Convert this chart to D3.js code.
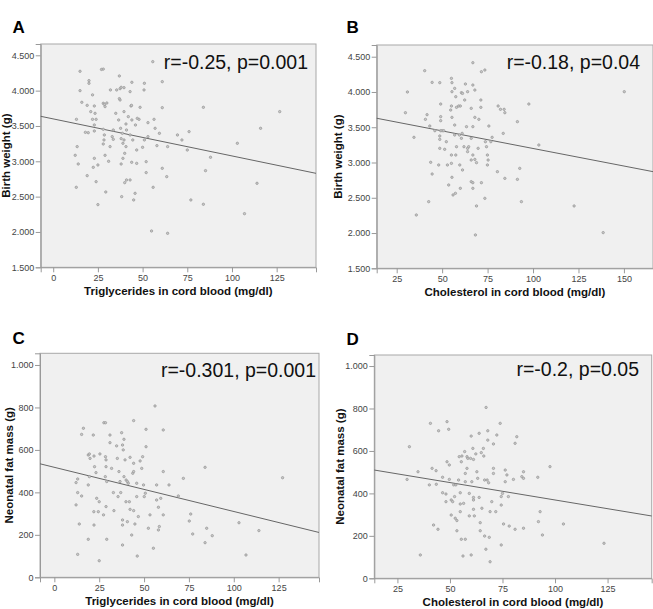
<!DOCTYPE html>
<html>
<head>
<meta charset="utf-8">
<script src="https://cdn.jsdelivr.net/npm/d3@7"></script>
<style>
  body { margin: 0; background: #fff; }
  svg { display: block; font-family: "Liberation Sans", Arial, sans-serif; }
</style>
</head>
<body>
<svg id="chart" width="653" height="609"></svg>
<script>
// Panel A: triglycerides vs birth weight
const trigA = [15,15,20,20,16,19,22,23,21,23.4,13,22,18,19.6,23,24,23,12.3,13.4,14,12.9,19,22.4,23,24,25,25,27,28,28,28.6,29,30,28,28.6,28.4,28,29,31,31.8,29.4,32,35.5,33.6,33,33.6,35,37,37.4,37,37.4,38,39.6,39.6,36.6,37.7,38.7,38,39,39.6,40.7,40,39,38,40,41,43,42,44,43.5,43.8,43,44,41,40.7,43,44.5,43.9,46.7,45.8,45,38.3,46,47,48.6,48,46.7,50,51,50.8,51,52,52,53,53,55.7,55,55.9,56.4,57,58,59.4,61,61,61,63.5,64,64,69.5,72,75,76,77,84,84,85.2,88,103,107,114,116,126.7];
const bwA = [4274,4000,4142,4104,3835,3792,3940,3783,3703,3679,3594,3594,3410,3405,3514,3594,3429,3085,3208,2962,2632,2797,2915,3042,2712,2948,2387,4300,4305,3821,3806,3774,3825,3453,3373,3302,3245,3085,3000,3208,2566,4010,4010,3443,3349,3311,3679,4208,4028,3887,3868,4047,4042,3703,3585,3467,3396,3321,3255,3302,3208,3113,3042,2962,2698,2736,2736,3632,3585,3783,3792,3986,4118,3443,3528,3373,3302,2986,2971,2547,2453,2500,3514,3608,3764,3594,3160,3198,3302,4010,4104,2995,2840,3349,3547,4410,2014,2632,3594,3467,3222,3396,4127,3759,2901,2783,1981,3208,3373,3302,3160,3420,2453,3764,2392,2868,3057,3255,2259,2689,3467,3703];

// Panel B: cholesterol vs birth weight
const cholB = [29.8,30.9,34.5,35.8,40.4,40.8,41.7,43.2,42.6,43.7,44.5,44.5,46,48.7,49.2,49.2,49.2,49.2,50,50.9,48.7,48.7,48.7,48.1,51.4,52.3,52.9,53.6,55.1,55.4,55.4,55.1,54.7,55.4,56.9,57.5,57.9,56.9,56.9,57.9,57.5,55.1,55.1,55.4,56,57.3,59.1,60,59.5,59.7,60.6,61.2,61,60.6,62.4,62.8,64,62,61.2,60,63.4,64,64,64.6,66,66.9,66.9,68,68,66.9,66,66.9,66,66,66.9,66.9,68,68.9,68.3,68.9,69.8,70.2,71.3,71.3,71.6,73.5,71.6,73.8,74.4,74.9,75.3,74.9,73.5,75.7,77.5,76.8,80.8,82.1,80.4,84.1,84.5,83.6,84.5,91.4,91.4,92.7,93.6,97.7,103.2,122.6,138.6,150.2];
const bwB = [3706,4000,3357,2256,4302,3612,3678,3517,2445,3003,4136,2837,3451,4132,3829,3650,3593,3451,3451,3451,3376,3328,3201,2965,3187,3295,2965,2681,4193,4132,4004,3801,3744,3640,4051,3933,3782,3531,3390,3224,3106,3106,2988,2790,2540,2563,3801,3801,3390,2965,3990,3980,3413,3343,3886,4113,4004,3224,2894,2634,3508,3154,3201,3224,3768,4098,4415,4027,3640,3508,3343,3106,3035,2728,2714,2634,3044,2998,1973,2384,3201,3612,3886,3782,4287,4311,2714,3295,3224,3106,3035,2965,2492,3517,3357,3295,3801,3754,2870,3754,3706,3413,2775,2761,3579,2917,2445,3829,3248,2384,2006,4004];

// Panel C: triglycerides vs neonatal fat mass
const trigC = [12.1,13,12.1,13,13.9,13,15.2,15.2,16.2,18.9,19.5,19.9,19.5,18.9,18.9,21.7,22.1,22.4,23.2,22,22.1,24.5,23.6,25,25.4,25,27.6,28.5,28.5,28.8,28.8,29.2,28.4,28.8,27.4,29.2,31,31,31.9,32.9,33.2,34.7,35.1,35.5,36,36.6,37,37.5,38,38.4,38.8,39.4,38.8,40,40.7,41.2,39.9,38,38,38,40.7,41.8,42.2,42.2,43.7,44.2,44.2,44.2,44.2,43.1,44.9,45.9,45.9,46.2,46.8,47.8,48.7,49.2,49.7,50.1,50.7,51.1,51.1,52.4,53.3,55.2,56.1,57,57,58,58.5,58,59.3,60.7,60.7,60.7,63.9,69.1,71.9,75.2,76,77.1,84,84,84.9,88,102.9,106.8,114,127.2];
const fatC = [446,463,341,399,251,108,383,673,702,576,581,560,474,435,179,670,571,521,493,309,246,309,372,356,581,78,728,728,568,553,521,451,474,333,294,179,670,634,513,399,314,619,560,380,498,451,399,681,623,600,650,553,474,458,451,443,356,270,246,152,262,356,320,565,490,738,537,498,314,199,251,443,380,100,286,548,513,568,435,380,396,615,697,231,294,137,807,435,364,330,239,223,372,694,498,294,435,383,466,265,298,204,518,163,231,196,257,105,220,469];

// Panel D: cholesterol vs neonatal fat mass
const cholD = [29.6,30.7,34.8,35.9,40.7,40.2,41.5,42.2,43.4,43.5,44.3,44.6,46.5,46.5,48.1,48.1,48.6,48.6,49.4,49.7,49.7,50.6,50.6,51.3,51.8,52.2,52.5,52.8,53.3,53.3,54.1,54.4,54.9,54.9,54.9,55.4,55.4,55.7,56.2,56.5,57,57.3,57.3,57.3,58.1,58.1,58.5,59.2,59.2,59.8,60.1,60.4,60.1,60.9,61.2,61.2,61.2,61.2,61.6,62.3,62.8,63.2,63.9,63.9,64.4,64.4,64.9,65.2,65.9,66.1,66.5,66.5,67.1,67.2,67.7,68,68,68.4,68.7,69.1,69.1,69.9,70.7,70.7,70.7,71.8,72.3,73.9,74.4,74.4,74.4,75,75.5,76.3,76.3,77.1,77.8,78.2,80.2,81,81.8,81,84.2,85,85,85,91.8,92.1,92.9,94,97.6,104,123.3];
const fatD = [466,620,502,110,730,440,518,251,507,443,231,695,403,476,397,361,738,549,702,534,466,298,369,361,440,385,283,440,272,224,463,573,403,350,314,549,184,576,105,353,597,494,455,184,573,518,565,400,294,565,670,455,110,612,560,381,369,325,294,586,502,471,381,683,262,224,592,330,612,576,463,199,137,805,463,651,695,450,193,314,78,361,633,518,494,314,675,730,385,345,157,400,256,510,455,487,385,246,466,636,667,231,479,471,502,236,476,267,314,204,526,256,165];

// Regression lines (intercept, slope)
const fitA = [3600, -5.24];
const fitB = [3697, -4.98];
const fitC = [518, -2.08];
const fitD = [533, -1.64];

// Tick values
const trigTicks = [0, 25, 50, 75, 100, 125];
const cholTicksB = [25, 50, 75, 100, 125, 150];
const cholTicksD = [25, 50, 75, 100, 125];
const bwTicks = [1500, 2000, 2500, 3000, 3500, 4000, 4500];
const fatTicks = [0, 200, 400, 600, 800, 1000];

const stats = ["r=-0.25, p=0.001", "r=-0.18, p=0.04", "r=-0.301, p=0.001", "r=-0.2, p=0.05"];
const letters = ["A", "B", "C", "D"];
const xTitles = ["Triglycerides in cord blood (mg/dl)", "Cholesterol in cord blood (mg/dl)"];
const yTitles = ["Birth weight (g)", "Neonatal fat mass (g)"];

// European number format: 4.500
const fmt = d3.formatLocale({ decimal: ",", thousands: ".", grouping: [3], currency: ["", ""] }).format(",.0f");

// Layout of the four panels (pixel boxes)
const panels = [
    { x: trigA, y: bwA, fit: fitA, xt: trigTicks, yt: bwTicks, xd: [-7, 147], yd: [1500, 4660],
      box: [40.7, 44, 316, 267.3], letter: [12.5, 32.5], statEnd: 308, statY: 68.5, yTitleX: 9.5, xTitle: 0, yTitle: 0 },
    { x: cholB, y: bwB, fit: fitB, xt: cholTicksB, yt: bwTicks, xd: [14, 166], yd: [1500, 4666],
      box: [376.7, 45, 653, 268.3], letter: [346.5, 32.5], statEnd: 640, statY: 69, yTitleX: 342, xTitle: 1, yTitle: 0 },
    { x: trigC, y: fatC, fit: fitC, xt: trigTicks, yt: fatTicks, xd: [-8, 147.5], yd: [0, 1055],
      box: [40, 353.3, 319, 577.3], letter: [12.5, 343.5], statEnd: 316, statY: 377, yTitleX: 12.5, xTitle: 0, yTitle: 1 },
    { x: cholD, y: fatD, fit: fitD, xt: cholTicksD, yt: fatTicks, xd: [14, 146], yd: [0, 1052],
      box: [374.3, 355, 651.7, 578.3], letter: [346.5, 345], statEnd: 639, statY: 376, yTitleX: 343.5, xTitle: 1, yTitle: 1 }
];

function drawPanel(svg, p, i) {
    const [x0, y0, x1, y1] = p.box;
    const x = d3.scaleLinear().domain(p.xd).range([x0, x1]);
    const y = d3.scaleLinear().domain(p.yd).range([y1, y0]);
    const g = svg.append("g");

    // plot background
    g.append("rect")
        .attr("x", x0).attr("y", y0)
        .attr("width", x1 - x0).attr("height", y1 - y0)
        .attr("fill", "#f0f0f0")
        .attr("stroke", "#a8a8a8")
        .attr("stroke-width", 1);

    // axes
    const xAxis = g.append("g")
        .attr("transform", `translate(0,${y1})`)
        .call(d3.axisBottom(x).tickValues(p.xt).tickSize(5).tickPadding(2).tickFormat(fmt));
    const yAxis = g.append("g")
        .attr("transform", `translate(${x0},0)`)
        .call(d3.axisLeft(y).tickValues(p.yt).tickSize(5).tickPadding(1.5).tickFormat(fmt));
    [xAxis, yAxis].forEach(a => {
        a.select(".domain").attr("stroke", "#999");
        a.selectAll(".tick line").attr("stroke", "#999");
        a.selectAll(".tick text")
            .attr("fill", "#444")
            .style("font-size", "9px")
            .style("font-family", "'Liberation Sans', Arial, sans-serif");
    });

    // regression line
    const fx = p.xd;
    g.append("line")
        .attr("x1", x(fx[0])).attr("y1", y(p.fit[0] + p.fit[1] * fx[0]))
        .attr("x2", x(fx[1])).attr("y2", y(p.fit[0] + p.fit[1] * fx[1]))
        .attr("stroke", "#666")
        .attr("stroke-width", 1);

    // points
    g.selectAll("circle.pt")
        .data(p.x.map((v, k) => [v, p.y[k]]))
        .enter()
        .append("circle")
        .attr("class", "pt")
        .attr("cx", d => x(d[0]))
        .attr("cy", d => y(d[1]))
        .attr("r", 1.2)
        .attr("fill", "#c8c8c8")
        .attr("stroke", "#949494")
        .attr("stroke-width", 0.7);

    // correlation text
    g.append("text")
        .attr("x", p.statEnd).attr("y", p.statY)
        .attr("text-anchor", "end")
        .attr("fill", "#111")
        .style("font-size", "19.5px")
        .text(stats[i]);

    // panel letter
    g.append("text")
        .attr("x", p.letter[0]).attr("y", p.letter[1])
        .style("font-size", "17px")
        .style("font-weight", "bold")
        .text(letters[i]);

    // axis titles
    g.append("text")
        .attr("x", (x0 + x1) / 2).attr("y", y1 + 28)
        .attr("text-anchor", "middle")
        .style("font-size", "11.5px")
        .style("font-weight", "bold")
        .attr("fill", "#111")
        .text(xTitles[p.xTitle]);

    g.append("text")
        .attr("transform", `translate(${p.yTitleX},${(y0 + y1) / 2}) rotate(-90)`)
        .attr("text-anchor", "middle")
        .style("font-size", "11.5px")
        .style("font-weight", "bold")
        .attr("fill", "#111")
        .text(yTitles[p.yTitle]);
}

const svg = d3.select("#chart");
panels.forEach((p, i) => drawPanel(svg, p, i));
</script>
</body>
</html>
